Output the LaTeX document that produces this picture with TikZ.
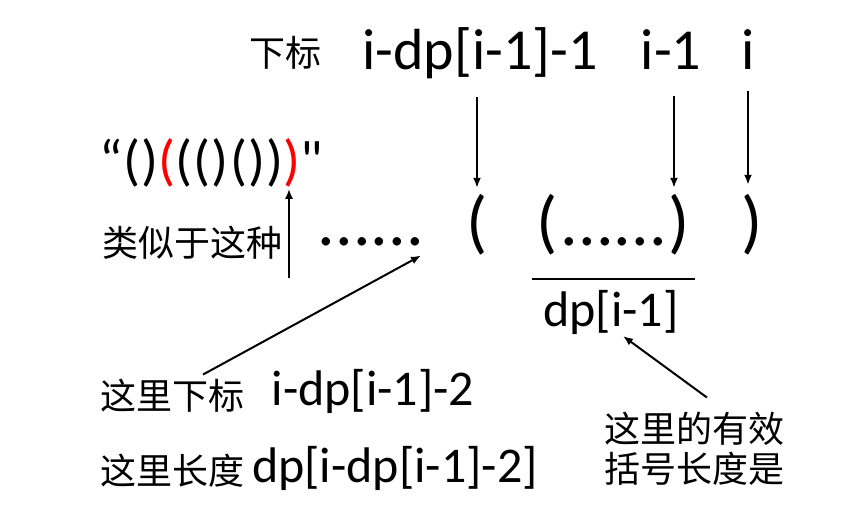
\documentclass[tikz,border=0pt]{standalone}
\usepackage{fontspec}
\setmainfont{Carlito}
\newfontfamily\rawfont{Carlito}
\newfontfamily\cjk{Noto Sans CJK SC}
\usetikzlibrary{arrows.meta}
\tikzset{>={Latex[length=10pt,width=8pt]}}

\begin{document}
\begin{tikzpicture}[x=1pt, y=-1pt, line width=2pt,
    cn/.style={font=\cjk\fontsize{36}{40}\selectfont, inner sep=0pt, anchor=base},
    toptxt/.style={font=\fontsize{58}{60}\selectfont, inner sep=0pt, anchor=base},
    rowtxt/.style={font=\fontsize{70}{72}\selectfont, inner sep=0pt, anchor=base},
    midtxt/.style={font=\fontsize{50}{52}\selectfont, inner sep=0pt, anchor=base}]
    \useasboundingbox (0, 0) rectangle (859, 518);
    % indices on top
    \node[cn] (topcn) at (285, 67) {下标};
    \node[toptxt] (idxa) at (480, 70) {i-dp[i-1]-1};
    \node[toptxt] (idxb) at (671, 70) {i-1};
    \node[toptxt] (idxc) at (748, 70) {i};
    % the example string
    \node[font=\rawfont\fontsize{56}{58}\selectfont\addfontfeature{LetterSpace=2}, inner sep=0pt, anchor=base] (demo) at (211, 180)
        {“()\textcolor{red}{(}(()())\textcolor{red}{)}"};
    \node[cn] (likecn) at (192, 257) {类似于这种};
    \coordinate (upfoot) at (289, 278);
    \draw[->] (upfoot) -- (upfoot |- demo.south);
    % the brackets
    \node[rowtxt] (dotsl) at (371, 246) {......};
    \node[rowtxt] (lpara) at (477, 246) {(};
    \node[rowtxt] (lparb) at (547, 246) {(};
    \node[rowtxt] (dotsr) at (614, 246) {......};
    \node[rowtxt] (rparb) at (679, 246) {)};
    \node[rowtxt] (rpara) at (752, 246) {)};
    \draw (532, 279) -- (695, 279);
    \node[midtxt] (dplen) at (611, 327) {dp[i-1]};
    \draw[->, shorten <=17pt, shorten >=6pt] (idxa.south -| lpara.north) -- (lpara.north);
    \draw[->, shorten <=25pt, shorten >=6pt] ([xshift=3pt]idxb.south) -- ([xshift=3pt]idxb.south |- rparb.north);
    \draw[->, shorten <=20pt, shorten >=9pt] (idxc.south) -- (idxc.south |- rpara.north);
    % notes below
    \node[cn] (subcn) at (172, 409) {这里下标};
    \node[midtxt] (subidx) at (373, 405) {i-dp[i-1]-2};
    \node[cn] (lencn) at (172, 484) {这里长度};
    \node[midtxt] (lenidx) at (395, 482) {dp[i-dp[i-1]-2]};
    \node[cn] (valida) at (694, 442) {这里的有效};
    \node[cn] (validb) at (694, 482) {括号长度是};
    \draw[->] ([xshift=31pt, yshift=3pt]subcn.north) -- ([xshift=-4pt, yshift=-8pt]dotsl.south east);
    \draw[->] ([xshift=13pt, yshift=13pt]valida.north) -- ([xshift=12pt]dplen.south);
\end{tikzpicture}
\end{document}
